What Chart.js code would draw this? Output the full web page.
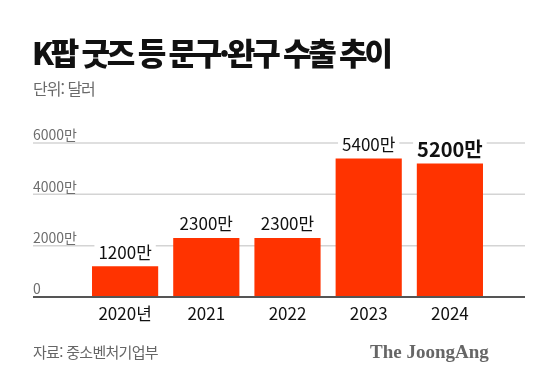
<!DOCTYPE html>
<html lang="ko">
<head>
<meta charset="utf-8">
<script src="https://cdn.jsdelivr.net/npm/chart.js@4"></script>
<style>
  html, body { margin: 0; padding: 0; background: #fff; }
  #wrap { position: relative; width: 560px; height: 387px; overflow: hidden; font-family: "Noto Sans CJK KR", sans-serif; }
  #chart { position: absolute; left: 0; top: 0; }
  .title { position: absolute; left: 32px; top: 30px; font-size: 31px; font-weight: 900; line-height: 44px; letter-spacing: -3.2px; color: #111; white-space: nowrap; }
  .unit { position: absolute; left: 33px; top: 76px; font-size: 16px; line-height: 24px; letter-spacing: -1px; color: #6a6a6a; }
  .source { position: absolute; left: 33px; top: 340px; font-size: 15px; line-height: 24px; letter-spacing: -0.7px; color: #666; }
  .logo { position: absolute; left: 370px; top: 340px; font-family: "Liberation Serif", serif; font-weight: bold; font-size: 19px; line-height: 24px; color: #666; }
</style>
</head>
<body>
<div id="wrap">
  <canvas id="chart" width="560" height="387"></canvas>
  <div class="title">K팝 굿즈 등 문구·완구 수출 추이</div>
  <div class="unit">단위: 달러</div>
  <div class="source">자료: 중소벤처기업부</div>
  <div class="logo">The JoongAng</div>
</div>
<script>
const years = ["2020년", "2021", "2022", "2023", "2024"];
const exports = [1200, 2300, 2300, 5400, 5200]; // 만 달러
const valueLabels = ["1200만", "2300만", "2300만", "5400만", "5200만"];
const yTicks = [0, 2000, 4000, 6000];
const yTickLabels = ["0", "2000만", "4000만", "6000만"];

const barColor = "#ff3300";
const korFont = '"Noto Sans CJK KR", sans-serif';

const drawExtras = {
  id: "drawExtras",
  beforeDatasetsDraw(chart) {
    const ctx = chart.ctx;
    const y = chart.scales.y;
    ctx.save();
    yTicks.forEach((t, i) => {
      const py = y.getPixelForValue(t);
      if (t !== 0) {
        ctx.strokeStyle = "#d4d4d4";
        ctx.lineWidth = 1.5;
        ctx.beginPath();
        ctx.moveTo(33, py);
        ctx.lineTo(525, py);
        ctx.stroke();
      }
      ctx.fillStyle = "#6e6e6e";
      ctx.font = "14px " + korFont;
      ctx.textAlign = "left";
      ctx.textBaseline = "bottom";
      ctx.fillText(yTickLabels[i], 33, py - 1);
    });
    ctx.restore();
  },
  afterDatasetsDraw(chart) {
    const ctx = chart.ctx;
    const y = chart.scales.y;
    const meta = chart.getDatasetMeta(0);
    ctx.save();
    // zero line
    const y0 = y.getPixelForValue(0);
    ctx.strokeStyle = "#555";
    ctx.lineWidth = 2;
    ctx.beginPath();
    ctx.moveTo(33, y0);
    ctx.lineTo(525, y0);
    ctx.stroke();

    meta.data.forEach((bar, i) => {
      const last = i === meta.data.length - 1;
      ctx.font = (last ? "bold 20px " : "17px ") + korFont;
      ctx.textAlign = "center";
      ctx.textBaseline = "middle";
      const w = ctx.measureText(valueLabels[i]).width;
      const cy = bar.y - 14;
      ctx.fillStyle = "#fff";
      ctx.fillRect(bar.x - w / 2 - 4, cy - 11, w + 8, 22);
      ctx.fillStyle = "#111";
      ctx.fillText(valueLabels[i], bar.x, cy);

      ctx.font = "17px " + korFont;
      ctx.fillText(years[i], bar.x, 314);
    });
    ctx.restore();
  }
};

new Chart(document.getElementById("chart").getContext("2d"), {
  type: "bar",
  data: {
    labels: years,
    datasets: [
      {
        data: exports,
        backgroundColor: barColor,
        borderWidth: 0,
        categoryPercentage: 1,
        barPercentage: 0.815,
      },
    ],
  },
  options: {
    responsive: false,
    animation: false,
    layout: { padding: { left: 84.5, right: 69.5, top: 143, bottom: 90 } },
    plugins: { legend: { display: false }, tooltip: { enabled: false } },
    scales: {
      x: { display: false },
      y: { display: false, min: 0, max: 6000 },
    },
  },
  plugins: [drawExtras],
});
</script>
</body>
</html>
